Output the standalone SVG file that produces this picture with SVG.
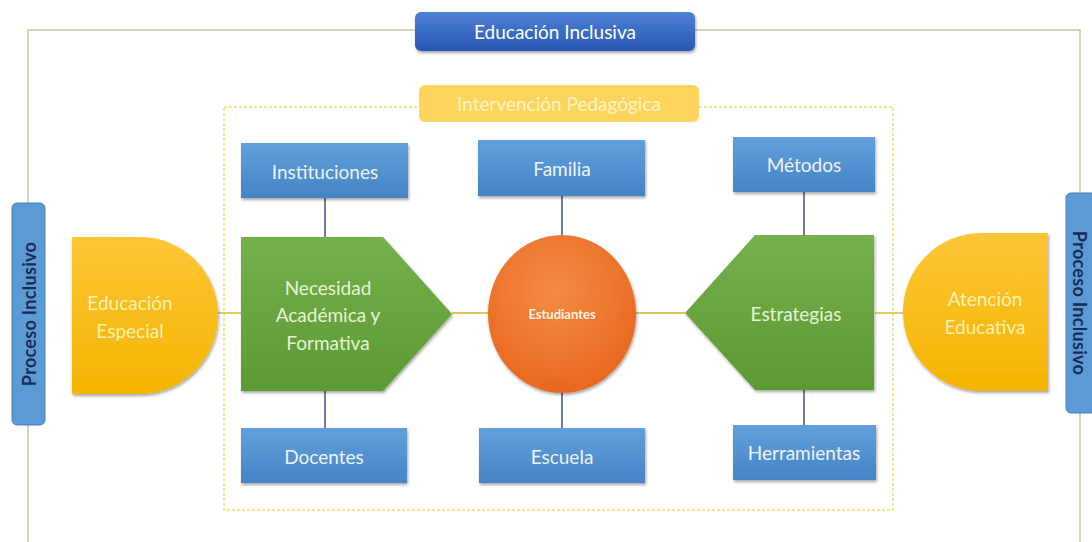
<svg xmlns="http://www.w3.org/2000/svg" width="1092" height="542" viewBox="0 0 1092 542">
<defs>
  <linearGradient id="gBlue" x1="0" y1="0" x2="0" y2="1">
    <stop offset="0" stop-color="#62a0db"/>
    <stop offset="1" stop-color="#4584c6"/>
  </linearGradient>
  <linearGradient id="gDark" x1="0" y1="0" x2="0" y2="1">
    <stop offset="0" stop-color="#4d82d6"/>
    <stop offset="1" stop-color="#2757b3"/>
  </linearGradient>
  <linearGradient id="gGreen" x1="0" y1="0" x2="0" y2="1">
    <stop offset="0" stop-color="#74b04c"/>
    <stop offset="1" stop-color="#5c9a33"/>
  </linearGradient>
  <linearGradient id="gYellow" x1="0" y1="0" x2="0" y2="1">
    <stop offset="0" stop-color="#fdc637"/>
    <stop offset="1" stop-color="#f4b400"/>
  </linearGradient>
  <radialGradient id="gOrange" cx="0.45" cy="0.35" r="0.7">
    <stop offset="0" stop-color="#f28c44"/>
    <stop offset="1" stop-color="#e8651c"/>
  </radialGradient>
  <filter id="sh" x="-10%" y="-10%" width="125%" height="130%">
    <feDropShadow dx="1" dy="2" stdDeviation="1.5" flood-color="#000" flood-opacity="0.35"/>
  </filter>
</defs>
<style>
  .t { font-family: Lato, "Open Sans", "Liberation Sans", sans-serif; text-anchor: middle; dominant-baseline: central; }
  .box { fill: url(#gBlue); filter: url(#sh); }
  .boxt { fill: #eef4fb; font-size: 19px; }
  .green { fill: url(#gGreen); filter: url(#sh); }
  .greent { fill: #e6f4d6; font-size: 19px; }
  .yel { fill: url(#gYellow); filter: url(#sh); }
  .yelt { fill: #fff1b0; font-size: 19px; }
  .proc { fill: #5b9bd5; stroke: #4a7fb5; stroke-width: 1; }
  .proct { fill: #1c2b55; font-size: 18px; font-weight: bold; letter-spacing: 0.3px; }
  .frame { fill: none; stroke: #c9c8a2; stroke-width: 1.5; }
  .dash { fill: none; stroke: #f0df6a; stroke-width: 1.5; stroke-dasharray: 3 2; }
  .hl { stroke: #e6c25a; stroke-width: 1.8; fill: none; }
  .vl { stroke: #4a5a96; stroke-width: 1.6; fill: none; }
</style>

<g id="frames">
  <path class="frame" d="M28,542 V30 H1080 V542"/>
  <rect class="dash" x="224" y="107" width="669" height="403"/>
</g>

<g id="connectors">
  <line class="hl" x1="218" y1="313" x2="241" y2="313"/>
  <line class="hl" x1="452" y1="313" x2="488" y2="313"/>
  <line class="hl" x1="636" y1="313" x2="685" y2="313"/>
  <line class="hl" x1="875" y1="313" x2="903" y2="313"/>
  <line class="vl" x1="325" y1="198" x2="325" y2="237"/>
  <line class="vl" x1="325" y1="391" x2="325" y2="428"/>
  <line class="vl" x1="562" y1="196" x2="562" y2="235"/>
  <line class="vl" x1="562" y1="393" x2="562" y2="428"/>
  <line class="vl" x1="804" y1="192" x2="804" y2="235"/>
  <line class="vl" x1="804" y1="390" x2="804" y2="425"/>
</g>

<g id="educacion-inclusiva">
  <rect x="415" y="12" width="280" height="39" rx="6" fill="url(#gDark)" filter="url(#sh)"/>
  <text class="t" x="555" y="31" fill="#ffffff" font-size="19">Educación Inclusiva</text>
</g>

<g id="intervencion-pedagogica">
  <rect x="419" y="85" width="280" height="37" rx="6" fill="#fdd55c"/>
  <text class="t" x="559" y="103" fill="#fff3c4" font-size="19">Intervención Pedagógica</text>
</g>

<g id="proceso-izq">
  <rect class="proc" x="12" y="203" width="33" height="222" rx="5"/>
  <text class="t proct" transform="translate(29,314) rotate(-90)">Proceso Inclusivo</text>
</g>

<g id="proceso-der">
  <rect class="proc" x="1066" y="193" width="33" height="220" rx="5"/>
  <text class="t proct" transform="translate(1080,303) rotate(90)">Proceso Inclusivo</text>
</g>

<g id="educacion-especial">
  <path class="yel" d="M72,237 H140 A78,78.5 0 0 1 140,394 H72 Z"/>
  <text class="t yelt" x="130" y="302">Educación</text>
  <text class="t yelt" x="130" y="330">Especial</text>
</g>

<g id="atencion-educativa">
  <path class="yel" d="M1048,233 V391 H981 A78,79 0 0 1 981,233 Z"/>
  <text class="t yelt" x="985" y="298">Atención</text>
  <text class="t yelt" x="985" y="326">Educativa</text>
</g>

<g id="necesidad">
  <path class="green" d="M241,237 H383 L452,314 L383,391 H241 Z"/>
  <text class="t greent" x="328" y="287">Necesidad</text>
  <text class="t greent" x="328" y="314">Académica y</text>
  <text class="t greent" x="328" y="342">Formativa</text>
</g>

<g id="estudiantes">
  <ellipse cx="562" cy="314" rx="74" ry="79" fill="url(#gOrange)" filter="url(#sh)"/>
  <text class="t" x="562" y="314" fill="#fff2e6" font-size="13" font-weight="bold">Estudiantes</text>
</g>

<g id="estrategias">
  <path class="green" d="M874,235 V390 H755 L685,313 L755,235 Z"/>
  <text class="t greent" x="796" y="313">Estrategias</text>
</g>

<g id="instituciones">
  <rect class="box" x="241" y="143" width="167" height="55"/>
  <text class="t boxt" x="325" y="171">Instituciones</text>
</g>
<g id="familia">
  <rect class="box" x="478" y="140" width="167" height="56"/>
  <text class="t boxt" x="562" y="168">Familia</text>
</g>
<g id="metodos">
  <rect class="box" x="733" y="137" width="142" height="55"/>
  <text class="t boxt" x="804" y="164">Métodos</text>
</g>
<g id="docentes">
  <rect class="box" x="241" y="428" width="166" height="55"/>
  <text class="t boxt" x="324" y="456">Docentes</text>
</g>
<g id="escuela">
  <rect class="box" x="479" y="428" width="166" height="55"/>
  <text class="t boxt" x="562" y="456">Escuela</text>
</g>
<g id="herramientas">
  <rect class="box" x="733" y="425" width="143" height="55"/>
  <text class="t boxt" x="804" y="452">Herramientas</text>
</g>
</svg>
